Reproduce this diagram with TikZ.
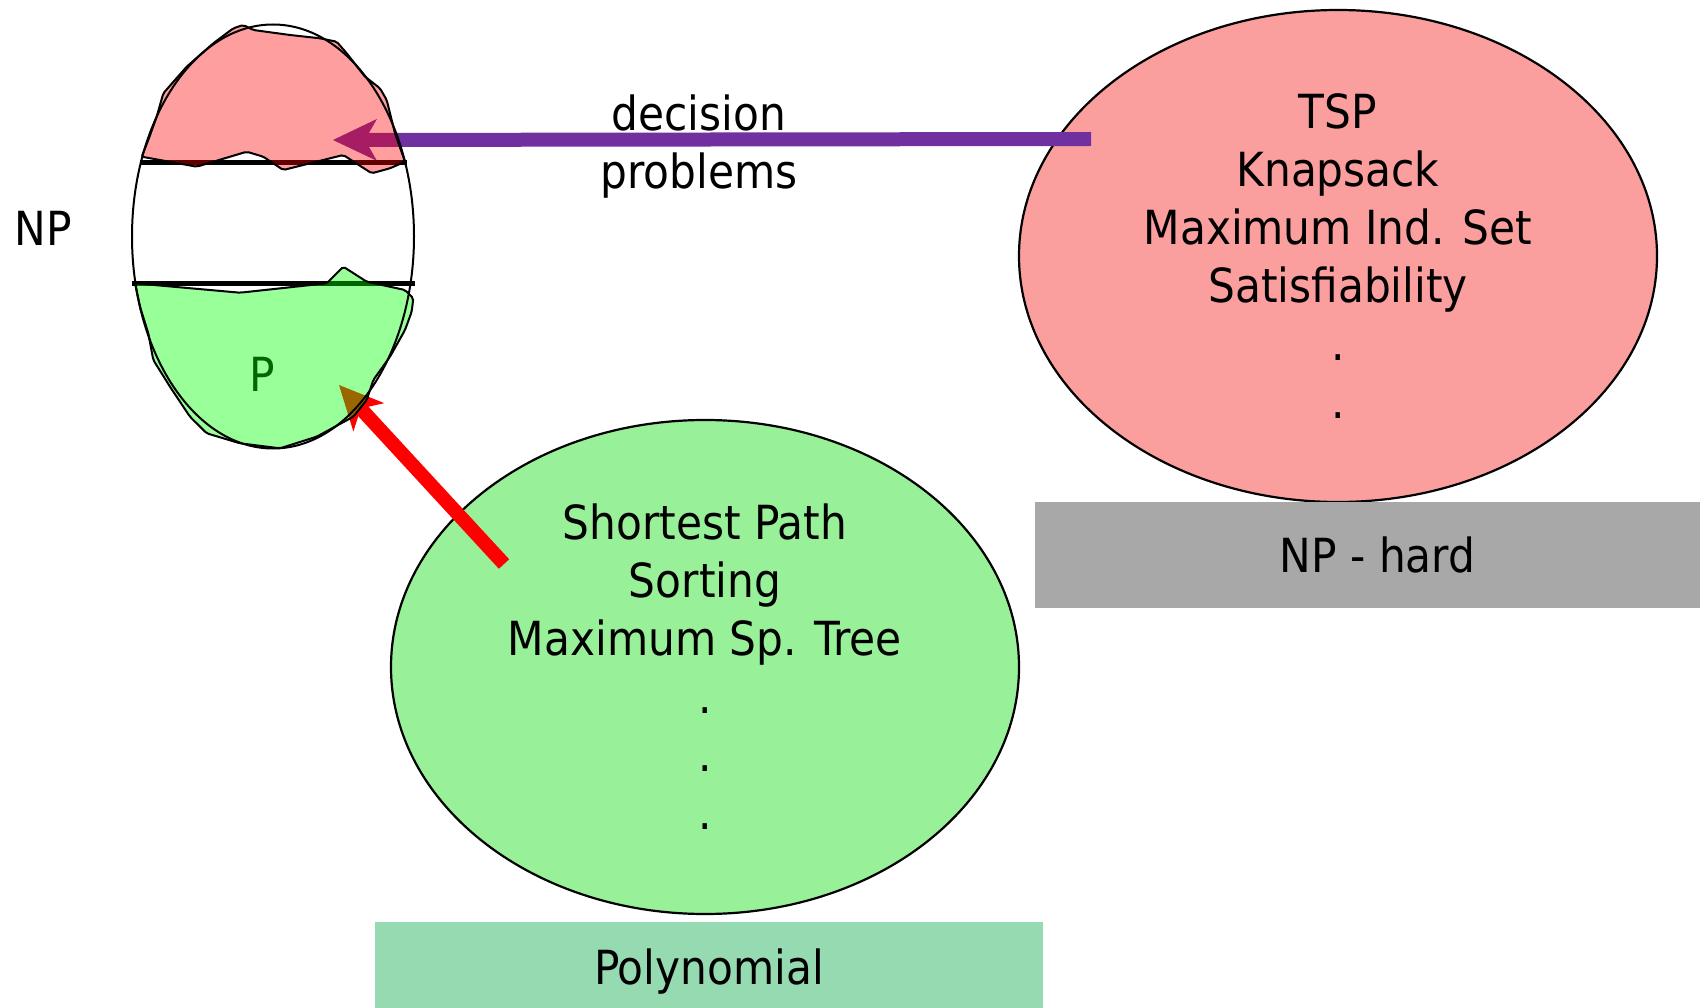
\documentclass[tikz,border=0pt]{standalone}
\usepackage{fontspec}
\setmainfont{DejaVu Sans Condensed}
\usetikzlibrary{shapes.geometric,arrows.meta}
\definecolor{hardred}{RGB}{250,158,158}
\definecolor{polygreen}{RGB}{152,240,152}
\definecolor{bandgrey}{RGB}{168,168,168}
\definecolor{bandteal}{RGB}{150,218,178}
\definecolor{decpurple}{RGB}{112,48,160}
\tikzset{
  blob/.style={draw=black,line width=2pt,rounded corners=2pt},
  classoval/.style={ellipse,draw=black,line width=2.2pt,inner sep=0pt,align=center},
  band/.style={rectangle,inner sep=0pt},
  fatarrow/.style={line width=14pt,-{Stealth[length=44pt,width=42pt,inset=12pt,line width=0pt]}}
}
\begin{document}
\begin{tikzpicture}[x=1pt,y=-1pt,every node/.style={font=\fontsize{47}{58}\selectfont}]
\useasboundingbox (0,0) rectangle (1700,1008);
\fill[white] (0,0) rectangle (1700,1008);

\node[classoval,fill=hardred,minimum width=638pt,minimum height=492pt] (hard) at (1338,256)
  {TSP\\Knapsack\\Maximum Ind. Set\\Satisfiability\\.\\.};
\node[classoval,fill=polygreen,minimum width=628pt,minimum height=494pt] (poly) at (705,667)
  {Shortest Path\\Sorting\\Maximum Sp. Tree\\.\\.\\.};

\node[band,fill=bandgrey,minimum width=685pt,minimum height=106pt] (hardlbl) at (1377.5,555) {NP - hard};
\node[band,fill=bandteal,minimum width=668pt,minimum height=100pt] (polylbl) at (709,972) {Polynomial};

\node[align=center] (dec) at (699,147) {decision\\problems};
\node (np) at (43,228) {NP};
\node (p) at (262,374) {P};

\coordinate (hardtail) at (1091,139);
\coordinate (nptip) at (333,140);
\coordinate (polytail) at (504,564);
\coordinate (ptip) at (339,385);
\draw[fatarrow,decpurple] (hardtail)--(nptip);
\draw[fatarrow,red] (polytail)--(ptip);

\draw[line width=5pt] (140,163)--(407,163);
\draw[line width=5pt] (132,284)--(415,284);
\filldraw[blob,fill=red,fill opacity=.38] (141.7,156.7)--(196.7,166.7)--(246.7,151.7)--(263.3,156.7)--(283.3,170)
  --(343.3,155)--(371.7,173.3)--(390,168.3)--(405,161.7)--(395,133.3)--(386.7,100)--(380,88.3)
  --(365,76.7)--(346.7,53.3)--(336.7,41.7)--(320,38.3)--(290,35)--(253.3,30)--(243.3,25)
  --(233.3,28.3)--(213.3,43.3)--(186.7,66.7)--(163.3,93.3)--(156.7,116.7)--(148.3,140)--cycle;
\filldraw[blob,fill=green,fill opacity=.4] (135,283.3)--(240,292.7)--(326.7,283.3)--(343.3,266.7)--(366.7,281.7)
  --(405,290)--(413.3,298.3)--(411.7,311.7)--(405,330)--(390,356.7)--(373.3,380)--(366.7,400)
  --(353.3,416.7)--(316.7,436.7)--(280,448.3)--(240,443.3)--(206.7,433.3)--(190,416.7)
  --(170,386.7)--(153.3,360)--(148.3,333.3)--(140,306.7)--cycle;
\draw[line width=2pt] (273,236.5) ellipse [x radius=141, y radius=212];
\end{tikzpicture}
\end{document}
